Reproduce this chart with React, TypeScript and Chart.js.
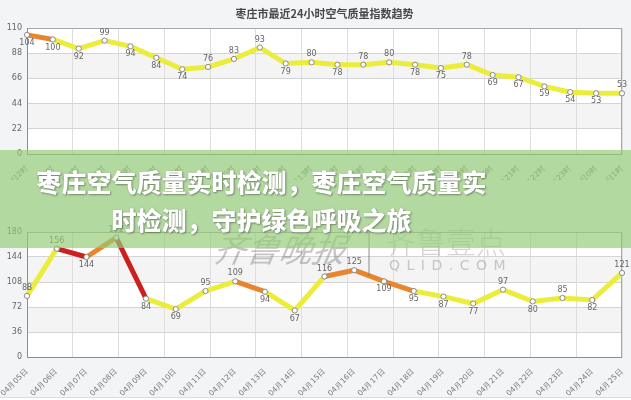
import React, { useEffect, useRef } from "react";
import { Chart, registerables } from "chart.js";
Chart.register(...registerables);

const chartTitle = "枣庄市最近24小时空气质量指数趋势";
const hourLabels = [
  "24日2时", "24日3时", "24日4时", "24日5时", "24日6时", "24日7时", "24日8时", "24日9时",
  "24日10时", "24日11时", "24日12时", "24日13时", "24日14时", "24日15时", "24日16时", "24日17时",
  "24日18时", "24日19时", "24日20时", "24日21时", "24日22时", "24日23时", "25日0时", "25日1时",
];
const hourlyAqi = [104, 100, 92, 99, 94, 84, 74, 76, 83, 93, 79, 80, 78, 78, 80, 78, 75, 78, 69, 67, 59, 54, 53, 53];
const hourlyTicks = [0, 22, 44, 66, 88, 110];

const dayLabels = [
  "04月05日", "04月06日", "04月07日", "04月08日", "04月09日", "04月10日", "04月11日",
  "04月12日", "04月13日", "04月14日", "04月15日", "04月16日", "04月17日", "04月18日",
  "04月19日", "04月20日", "04月21日", "04月22日", "04月23日", "04月24日", "04月25日",
];
const dailyAqi = [88, 156, 144, 172, 84, 69, 95, 109, 94, 67, 116, 125, 109, 95, 87, 77, 97, 80, 85, 82, 121];
const dailyTicks = [0, 36, 72, 108, 144, 180];

const gridDivisions = 13;
const bannerLines = ["枣庄空气质量实时检测，枣庄空气质量实", "时检测，守护绿色呼吸之旅"];

const YELLOW = "#ecec3a";
const ORANGE = "#e8862e";
const RED = "#cc2020";
const levelColor = (v: number) => (v <= 100 ? YELLOW : v <= 150 ? ORANGE : RED);

function makeConfig(
  values: number[],
  labels: string[],
  yTicks: number[],
  firstAbove: boolean,
  padTop: number,
  xHeight: number,
  title: string | null
): any {
  const n = values.length;
  const decor = {
    id: "decor",
    beforeDraw(chart: any) {
      const { ctx, chartArea: a, scales } = chart;
      ctx.save();
      ctx.fillStyle = "#f3f4f6";
      ctx.fillRect(0, 0, chart.width, chart.height);
      ctx.fillStyle = "#ffffff";
      ctx.fillRect(a.left, a.top, a.right - a.left, a.bottom - a.top);
      const ys = scales.y;
      const desc = [...yTicks].sort((p, q) => q - p);
      for (let i = 0; i < desc.length - 1; i++) {
        if (i % 2 === 1) {
          const y1 = ys.getPixelForValue(desc[i]);
          const y2 = ys.getPixelForValue(desc[i + 1]);
          ctx.fillStyle = "#f4f4f4";
          ctx.fillRect(a.left, y1, a.right - a.left, y2 - y1);
        }
      }
      ctx.restore();
    },
    beforeDatasetsDraw(chart: any) {
      const { ctx, chartArea: a } = chart;
      ctx.save();
      ctx.strokeStyle = "#a8a8a8";
      ctx.lineWidth = 1;
      ctx.strokeRect(a.left + 0.5, a.top + 0.5, a.right - a.left - 1, a.bottom - a.top);
      ctx.strokeStyle = "#8c8c8c";
      ctx.beginPath();
      ctx.moveTo(a.left + 0.5, a.top);
      ctx.lineTo(a.left + 0.5, a.bottom + 0.5);
      ctx.lineTo(a.right, a.bottom + 0.5);
      ctx.stroke();
      ctx.restore();
    },
    afterDatasetsDraw(chart: any) {
      const { ctx, chartArea: a } = chart;
      const meta = chart.getDatasetMeta(0);
      ctx.save();
      ctx.font = "8px 'DejaVu Sans'";
      ctx.fillStyle = "#666";
      ctx.textAlign = "center";
      ctx.textBaseline = "middle";
      meta.data.forEach((pt: any, i: number) => {
        const above = i === 0 ? firstAbove : values[i] >= values[i - 1];
        ctx.fillText(String(values[i]), pt.x, pt.y + (above ? -8 : 8));
      });
      if (title) {
        ctx.font = "bold 11px 'Noto Sans CJK SC'";
        ctx.fillStyle = "#484848";
        ctx.fillText(title, (a.left + a.right) / 2, 14);
      }
      ctx.restore();
    },
  };

  return {
    type: "line",
    data: {
      datasets: [
        {
          data: values.map((v, i) => ({ x: i, y: v })),
          borderWidth: 5,
          borderColor: YELLOW,
          segment: { borderColor: (c: any) => levelColor(c.p0.parsed.y) },
          pointRadius: 2.6,
          pointBorderWidth: 1,
          pointBackgroundColor: "#ffffff",
          pointBorderColor: "#8a8a8a",
          tension: 0,
          clip: false,
        },
      ],
    },
    options: {
      animation: false,
      responsive: true,
      maintainAspectRatio: false,
      devicePixelRatio: 1,
      layout: { padding: { left: 0, right: 9, top: padTop, bottom: 0 } },
      plugins: { legend: { display: false }, tooltip: { enabled: false }, title: { display: false } },
      scales: {
        x: {
          type: "linear",
          min: 0,
          max: n - 1,
          weight: 1,
          afterBuildTicks: (s: any) => {
            s.ticks = labels.map((_, i) => ({ value: i }));
          },
          afterFit: (s: any) => {
            s.height = xHeight;
          },
          ticks: {
            autoSkip: false,
            minRotation: 45,
            maxRotation: 45,
            padding: 2,
            font: { size: 7.5, family: "'DejaVu Sans'" },
            color: "#777",
            callback: (_v: any, i: number) => labels[i],
          },
          grid: { display: false },
          border: { display: false },
        },
        xg: {
          type: "linear",
          axis: "x",
          position: "bottom",
          min: 0,
          max: n - 1,
          weight: 2,
          afterBuildTicks: (s: any) => {
            const arr = [];
            for (let i = 0; i <= gridDivisions; i++) arr.push({ value: (i * (n - 1)) / gridDivisions });
            s.ticks = arr;
          },
          afterFit: (s: any) => {
            s.height = 0;
          },
          ticks: { display: false },
          grid: { color: "#dedede", drawTicks: false },
          border: { display: false },
        },
        y: {
          min: yTicks[0],
          max: yTicks[yTicks.length - 1],
          afterBuildTicks: (s: any) => {
            s.ticks = yTicks.map((v) => ({ value: v }));
          },
          afterFit: (s: any) => {
            s.width = 27;
          },
          ticks: { font: { size: 8, family: "'DejaVu Sans'" }, color: "#666", padding: 5 },
          grid: { color: "#d4d4d4", drawTicks: false },
          border: { display: false },
        },
      },
    },
    plugins: [decor],
  };
}

function LineBox(props: { cfg: any; top: number; height: number }) {
  const ref = useRef<HTMLCanvasElement | null>(null);
  useEffect(() => {
    if (!ref.current) return;
    const c = new Chart(ref.current, props.cfg);
    return () => c.destroy();
  }, []);
  return (
    <div style={{ position: "absolute", left: 0, top: props.top, width: 631, height: props.height }}>
      <canvas ref={ref} />
    </div>
  );
}

export default function App() {
  const topCfg = makeConfig(hourlyAqi, hourLabels, hourlyTicks, false, 28, 26, chartTitle);
  const botCfg = makeConfig(dailyAqi, dayLabels, dailyTicks, true, 32, 43, null);
  const wm = "rgba(120,120,120,0.42)";
  return (
    <div style={{ position: "fixed", left: 0, top: 0, width: 631, height: 400, overflow: "hidden", background: "#f3f4f6" }}>
      <LineBox cfg={topCfg} top={0} height={180} />
      <LineBox cfg={botCfg} top={200} height={200} />
      <div style={{ position: "absolute", left: 0, top: 397, width: 631, height: 3, background: "#ffffff", borderTop: "1px solid #dcdcdc" }} />
      {/* watermark */}
      <div style={{ position: "absolute", left: 214, top: 228, fontFamily: "'Noto Sans CJK SC'", fontSize: 33, fontStyle: "italic", color: wm, lineHeight: "40px", whiteSpace: "nowrap", transform: "skewX(-10deg)" }}>齐鲁晚报</div>
      <div style={{ position: "absolute", left: 368, top: 224, width: 2, height: 52, background: wm }} />
      <div style={{ position: "absolute", left: 386, top: 222, fontFamily: "'Noto Sans CJK SC'", fontWeight: 300, fontSize: 30, color: "rgba(150,150,150,0.4)", lineHeight: "36px", whiteSpace: "nowrap" }}>齐鲁壹点</div>
      <div style={{ position: "absolute", left: 389, top: 256, fontFamily: "'DejaVu Sans'", fontSize: 14, letterSpacing: 6.5, color: "rgba(150,150,150,0.5)", lineHeight: "18px", whiteSpace: "nowrap" }}>QLID.COM</div>
      {/* banner */}
      <div style={{ position: "absolute", left: 0, top: 150, width: 631, height: 98, background: "rgba(148,204,118,0.68)" }} />
      <div style={{ position: "absolute", left: 0, top: 162, width: 523, textAlign: "center", fontFamily: "'Noto Sans CJK SC'", fontWeight: 900, fontSize: 25, lineHeight: "38px", color: "#ffffff", textShadow: "1px 1px 2px rgba(0,0,0,0.35), 0 0 1px rgba(0,0,0,0.3)" }}>
        {bannerLines.map((t, i) => (
          <div key={i} style={{ whiteSpace: "nowrap" }}>{t}</div>
        ))}
      </div>
    </div>
  );
}
